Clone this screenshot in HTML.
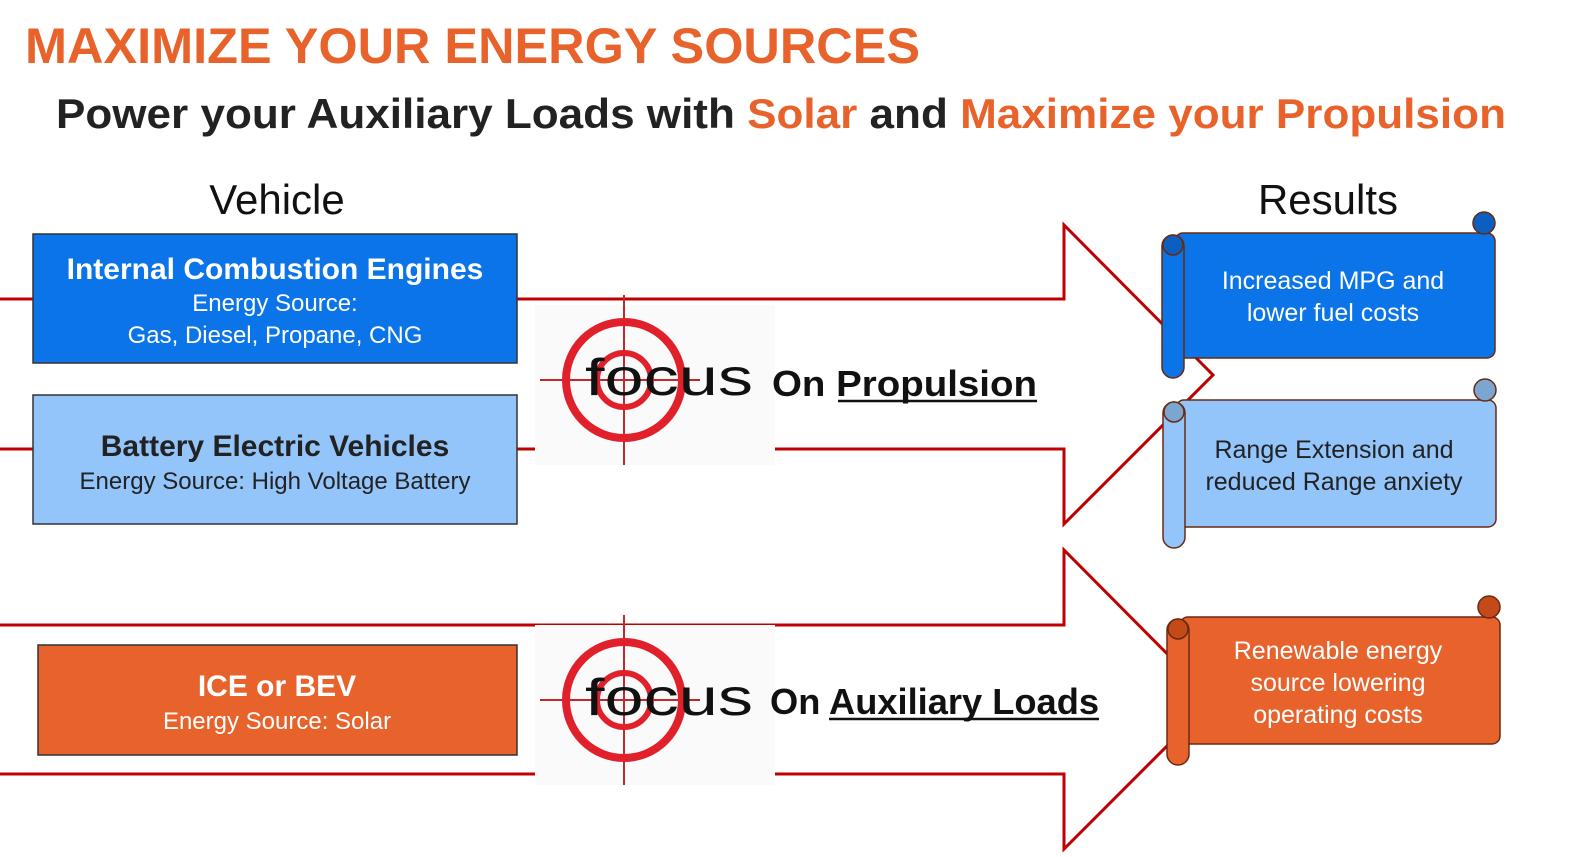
<!DOCTYPE html>
<html><head><meta charset="utf-8"><style>
html,body{margin:0;padding:0;background:#fff;width:1583px;height:857px;overflow:hidden;font-family:"Liberation Sans",sans-serif}
svg{display:block}
</style></head><body>
<svg width="1583" height="857" viewBox="0 0 1583 857" xmlns="http://www.w3.org/2000/svg" font-family="Liberation Sans, sans-serif">
<text x="25" y="63" font-size="50" fill="#e8632b" font-weight="bold" textLength="895" lengthAdjust="spacingAndGlyphs">MAXIMIZE YOUR ENERGY SOURCES</text>
<text x="56" y="128" font-size="42" font-weight="bold" fill="#222" textLength="1450" lengthAdjust="spacingAndGlyphs">Power your Auxiliary Loads with <tspan fill="#e8632b">Solar</tspan> and <tspan fill="#e8632b">Maximize your Propulsion</tspan></text>
<text x="277" y="214" font-size="42" fill="#111" text-anchor="middle">Vehicle</text>
<text x="1328" y="214" font-size="42" fill="#111" text-anchor="middle">Results</text>
<polygon points="-10,299 1064,299 1064,225 1213,375 1064,524 1064,449 -10,449" fill="#fff" stroke="#c00000" stroke-width="3"/>
<polygon points="-10,625 1064,625 1064,550 1213,700 1064,849 1064,774 -10,774" fill="#fff" stroke="#c00000" stroke-width="3"/>
<rect x="33" y="234" width="484" height="129" fill="#0a74e8" stroke="#333" stroke-width="1.5"/>
<text x="275" y="279" font-size="30" font-weight="bold" fill="#fff" text-anchor="middle">Internal Combustion Engines</text>
<text x="275" y="311" font-size="24" fill="#fff" text-anchor="middle">Energy Source:</text>
<text x="275" y="343" font-size="24" fill="#fff" text-anchor="middle">Gas, Diesel, Propane, CNG</text>
<rect x="33" y="395" width="484" height="129" fill="#93c5fb" stroke="#333" stroke-width="1.5"/>
<text x="275" y="456" font-size="30" font-weight="bold" fill="#222" text-anchor="middle">Battery Electric Vehicles</text>
<text x="275" y="489" font-size="24" fill="#222" text-anchor="middle">Energy Source: High Voltage Battery</text>
<rect x="38" y="645" width="479" height="110" fill="#e8622c" stroke="#333" stroke-width="1.5"/>
<text x="277" y="696" font-size="30" font-weight="bold" fill="#fff" text-anchor="middle">ICE or BEV</text>
<text x="277" y="729" font-size="24" fill="#fff" text-anchor="middle">Energy Source: Solar</text>
<g id="f1">
<rect x="535" y="305" width="240" height="160" fill="#fafafa"/>
<line x1="624" y1="295" x2="624" y2="465" stroke="#c0282c" stroke-width="2"/>
<line x1="540" y1="380" x2="700" y2="380" stroke="#c0282c" stroke-width="2"/>
<circle cx="624" cy="380" r="58" fill="none" stroke="#e0202a" stroke-width="8"/>
<circle cx="624" cy="380" r="27" fill="none" stroke="#e0202a" stroke-width="6"/>
<text x="585" y="395" font-size="52" fill="#111" textLength="168" lengthAdjust="spacingAndGlyphs">focus</text>
</g>
<use href="#f1" y="320"/>
<text x="772" y="396" font-size="36" font-weight="bold" fill="#111" textLength="265" lengthAdjust="spacingAndGlyphs">On Propulsion</text>
<line x1="838" y1="401" x2="1037" y2="401" stroke="#111" stroke-width="2.5"/>
<text x="770" y="714" font-size="36" font-weight="bold" fill="#111" textLength="329" lengthAdjust="spacingAndGlyphs">On Auxiliary Loads</text>
<line x1="829" y1="719" x2="1099" y2="719" stroke="#111" stroke-width="2.5"/>
<g stroke="#6a2a10" stroke-width="1.5">
<rect x="1175" y="233" width="320" height="125" rx="8" fill="#0a74e8"/>
<circle cx="1484" cy="223" r="11" fill="#0b5fc0"/>
<rect x="1162" y="235" width="22" height="143" rx="11" fill="#0a74e8"/>
<circle cx="1173" cy="245" r="10" fill="#0b5fc0"/>
<rect x="1176" y="400" width="320" height="127" rx="8" fill="#93c5fb"/>
<circle cx="1485" cy="390" r="11" fill="#7ba6d0"/>
<rect x="1163" y="402" width="22" height="146" rx="11" fill="#93c5fb"/>
<circle cx="1174" cy="412" r="10" fill="#7ba6d0"/>
<rect x="1180" y="617" width="320" height="127" rx="8" fill="#e8622c"/>
<circle cx="1489" cy="607" r="11" fill="#c44a1a"/>
<rect x="1167" y="619" width="22" height="146" rx="11" fill="#e8622c"/>
<circle cx="1178" cy="629" r="10" fill="#c44a1a"/>
</g>
<text x="1333" y="289" font-size="25" fill="#fff" text-anchor="middle">Increased MPG and</text>
<text x="1333" y="321" font-size="25" fill="#fff" text-anchor="middle">lower fuel costs</text>
<text x="1334" y="458" font-size="25" fill="#222" text-anchor="middle">Range Extension and</text>
<text x="1334" y="490" font-size="25" fill="#222" text-anchor="middle">reduced Range anxiety</text>
<text x="1338" y="659" font-size="25" fill="#fff" text-anchor="middle">Renewable energy</text>
<text x="1338" y="691" font-size="25" fill="#fff" text-anchor="middle">source lowering</text>
<text x="1338" y="723" font-size="25" fill="#fff" text-anchor="middle">operating costs</text>
</svg>
</body></html>
